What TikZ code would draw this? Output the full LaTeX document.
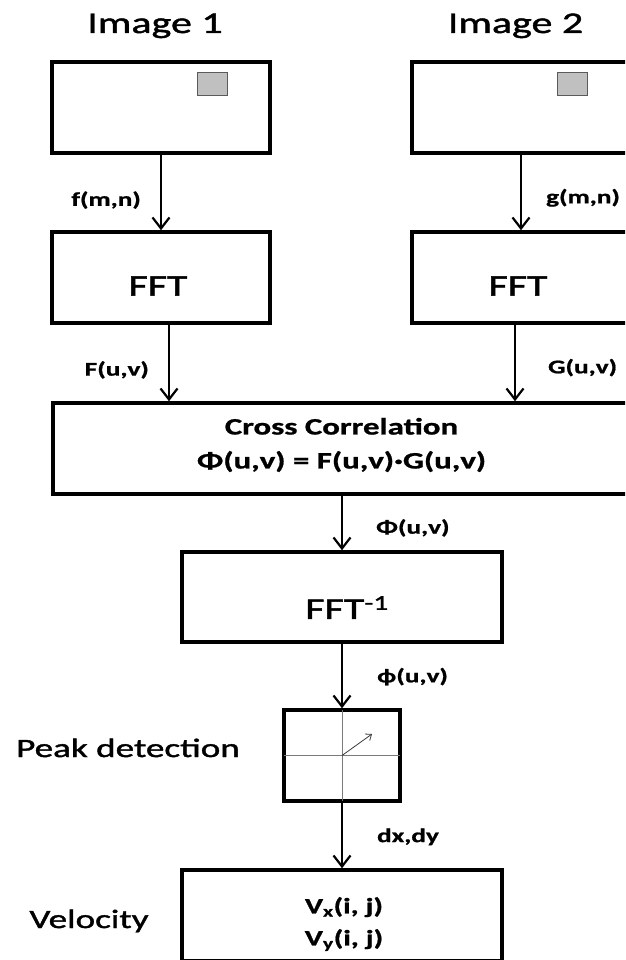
\documentclass[tikz,border=0pt]{standalone}
\usepackage{fontspec}
\setmainfont{Carlito}[FakeStretch=1.4,
  UprightFeatures={FakeBold=1.5},
  BoldFeatures={FakeBold=1}]
\usepackage{xcolor}
\usepackage{tikz}
\definecolor{patchgray}{HTML}{C0C0C0}
\definecolor{patchedge}{HTML}{5A5A5A}
\definecolor{gridgray}{HTML}{7A7A7A}
\definecolor{peakdark}{HTML}{3A3A3A}
\usetikzlibrary{arrows.meta,positioning}
\newcommand\fntbig{\fontsize{30}{36}\selectfont}
\newcommand\fntside{\fontsize{26.5}{32}\selectfont}
\newcommand\fntcc{\bfseries\fontsize{23.5}{34}\selectfont}
\newcommand\fntvel{\bfseries\fontsize{22}{32}\selectfont}
\newcommand\fntlbl{\bfseries\fontsize{19.5}{23}\selectfont}

\begin{document}
\begin{tikzpicture}[x=1pt,y=-1pt,
  box/.style={draw,line width=3.5pt,minimum width=218pt,minimum height=91pt,inner sep=0pt},
  big/.style={font=\fntbig,inner sep=0pt},
  side/.style={font=\fntside,inner sep=0pt,anchor=base},
  lbl/.style={font=\fntlbl,inner sep=0pt},
  patch/.style={draw=patchedge,fill=patchgray,line width=1pt,
                minimum width=30pt,minimum height=23pt,inner sep=0pt},
  grid/.style={draw=gridgray,line width=1pt,shorten <=1.5pt,shorten >=1.5pt},
  peakarr/.style={-{Straight Barb[length=5pt,width=8pt]},color=peakdark,line width=0.8pt},
  arr/.style={-{Straight Barb[length=11pt,width=17pt]},line width=2.2pt}]
  \useasboundingbox (0,0) rectangle (625,960);
  \clip (0,0) rectangle (625,960);
  % the two input images
  \node[big,anchor=base] (title1) at (155,33) {Image 1};
  \node[big,anchor=base] (title2) at (515.5,33) {Image 2};
  \node[box] (img1) at (161,107.5) {};
  \node[box] (img2) at (521,107.5) {};
  \node[patch] (win1) at (212,84.5) {};
  \node[patch] (win2) at (572,84.5) {};
  % transforms
  \node[box] (fft1) at (161,277.5) {};
  \node[box] (fft2) at (521,277.5) {};
  \node[big] (fft1txt) at ([shift={(-3pt,-8.5pt)}]fft1.center) {FFT};
  \node[big] (fft2txt) at ([shift={(-3pt,-8.5pt)}]fft2.center) {FFT};
  \node[box,minimum width=577pt] (cc) at (341.5,448.5) {};
  \node[font=\fntcc,align=center,inner sep=0pt] (cctxt) at ([yshift=3.5pt]cc.center)
    {Cross Correlation\\Φ(u,v) = F(u,v)·G(u,v)};
  \node[box,minimum width=320pt,minimum height=90pt] (ifft) at (342,597) {};
  \node[big] (iffttxt) at ([shift={(5pt,-10.5pt)}]ifft.center) {FFT\textsuperscript{-1}};
  % peak and velocity
  \node[box,minimum width=116pt] (peak) at (342,755.5) {};
  \node[side] (peaklbl) at (128,757) {Peak detection};
  \draw[grid] (peak.north) -- (peak.south);
  \draw[grid] (peak.west) -- (peak.east);
  \coordinate (peaktip) at (372,734);
  \draw[peakarr] (peak.center) -- (peaktip);
  \node[box,minimum width=320pt] (vel) at (342,915.5) {};
  \node[side] (vellbl) at (89,928) {Velocity};
  \node[font=\fntvel,align=center,inner sep=0pt] (veltxt) at ([shift={(2pt,-8.5pt)}]vel.center)
    {V\textsubscript{x}(i, j)\\V\textsubscript{y}(i, j)};
  % connectors
  \draw[arr] (img1) -- (fft1) node[lbl,left=19pt,pos=.6] (lf) {f(m,n)};
  \draw[arr] (img2) -- (fft2) node[lbl,right=24pt,pos=.57] (lg) {g(m,n)};
  \draw[arr] ([xshift=8pt]fft1.south) -- ([xshift=8pt]fft1.south |- cc.north)
    node[lbl,left=19pt,pos=.59] (lF) {F(u,v)};
  \draw[arr] ([xshift=-6pt]fft2.south) -- ([xshift=-6pt]fft2.south |- cc.north)
    node[lbl,right=32pt,pos=.56] (lG) {G(u,v)};
  \draw[arr] (cc.south -| ifft.north) -- (ifft.north) node[lbl,right=33pt,pos=.59] (lPhi) {Φ(u,v)};
  \draw[arr] (ifft) -- (peak) node[lbl,right=34pt,pos=.51] (lphi) {ϕ(u,v)};
  \draw[arr] (peak) -- (vel) node[lbl,right=34pt,pos=.52] (ld) {dx,dy};
\end{tikzpicture}
\end{document}
